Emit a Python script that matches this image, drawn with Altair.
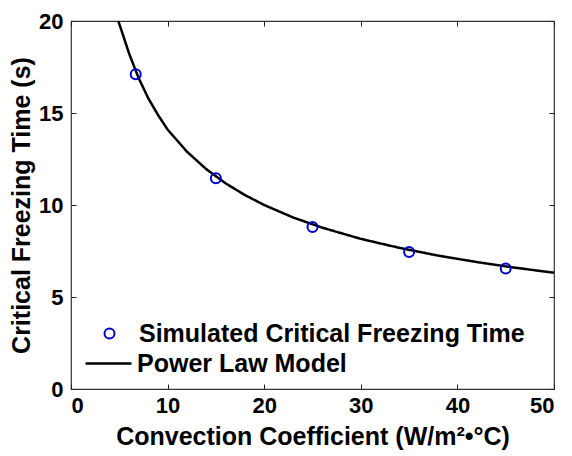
import altair as alt
import pandas as pd

# Simulated points
sim_h = [6.7, 15, 25, 35, 45]
sim_t = [17.1, 11.45, 8.8, 7.45, 6.55]

# Power law model curve
model_h = [4.9, 5.5, 6, 7, 8, 9, 10, 12, 14, 16, 18, 20, 23, 26, 30, 34, 38, 42, 46, 50]
model_t = [20.0, 19.05, 18.25, 16.9, 15.8, 14.9, 14.1, 12.9, 11.95, 11.18, 10.54, 10.0,
           9.32, 8.77, 8.16, 7.67, 7.25, 6.9, 6.59, 6.32]

x_ticks = [0, 10, 20, 30, 40, 50]
y_ticks = [0, 5, 10, 15, 20]

sim_label = "Simulated Critical Freezing Time"
model_label = "Power Law Model"

sim_df = pd.DataFrame({"h": sim_h, "t": sim_t, "series": sim_label})
model_df = pd.DataFrame({"h": model_h, "t": model_t, "series": model_label})

FONT = "Liberation Sans"
TICK_FS = 22
TITLE_FS = 25
LEG_FS = 25
BLUE = "#0000cc"

xscale = alt.Scale(domain=[0, 50], nice=False)
yscale = alt.Scale(domain=[0, 20], nice=False)

common_axis = dict(grid=False, domain=False, tickColor="#222222", tickWidth=1,
                   tickSize={"expr": "-5"})

line = alt.Chart(model_df).mark_line(color="black", strokeWidth=2.5, clip=True).encode(
    x=alt.X("h:Q", scale=xscale,
            axis=alt.Axis(values=x_ticks, orient="bottom", title="Convection Coefficient (W/m²•°C)",
                          labelFont=FONT, labelFontSize=TICK_FS, labelFontWeight="bold", labelColor="black",
                          labelPadding=11, titleFont=FONT, titleFontSize=TITLE_FS, titleFontWeight="bold",
                          titleColor="black", titlePadding=8, **common_axis)),
    y=alt.Y("t:Q", scale=yscale,
            axis=alt.Axis(values=y_ticks, orient="left", title="Critical Freezing Time (s)",
                          labelFont=FONT, labelFontSize=TICK_FS, labelFontWeight="bold", labelColor="black",
                          labelPadding=13, titleFont=FONT, titleFontSize=TITLE_FS, titleFontWeight="bold",
                          titleColor="black", titlePadding=4, **common_axis)),
    strokeDash=alt.StrokeDash("series:N", scale=alt.Scale(range=[[1, 0]]),
                              legend=alt.Legend(orient="none", legendX=13, legendY=318, title=None,
                                                labelFont=FONT, labelFontSize=LEG_FS, labelFontWeight="bold",
                                                labelColor="black", labelLimit=0, symbolSize=2116,
                                                symbolStrokeWidth=2.5, symbolStrokeColor="black",
                                                labelOffset=4, padding=0)),
)

points = alt.Chart(sim_df).mark_point(shape="circle", filled=False, color=BLUE, opacity=1,
                                      size=100, strokeWidth=2).encode(
    x=alt.X("h:Q", scale=xscale,
            axis=alt.Axis(values=x_ticks, orient="top", labels=False, title=None, **common_axis)),
    y=alt.Y("t:Q", scale=yscale,
            axis=alt.Axis(values=y_ticks, orient="right", labels=False, title=None, **common_axis)),
    shape=alt.Shape("series:N", scale=alt.Scale(range=["circle"]),
                    legend=alt.Legend(orient="none", legendX=26, legendY=300, title=None,
                                      labelFont=FONT, labelFontSize=LEG_FS, labelFontWeight="bold",
                                      labelColor="black", labelLimit=0, symbolSize=100, symbolStrokeWidth=2,
                                      symbolStrokeColor=BLUE, symbolFillColor="transparent",
                                      symbolOpacity=1, labelOffset=17, padding=0)),
)

chart = alt.layer(line, points).resolve_axis(x="independent", y="independent").properties(
    width=483, height=368,
    autosize=alt.AutoSizeParams(type="none"),
    padding={"left": 71, "top": 21, "right": 18, "bottom": 67},
    background="white",
).configure_view(stroke="#333333", strokeWidth=1.2)

chart.save("out.html", embed_options={"renderer": "svg", "actions": False})
